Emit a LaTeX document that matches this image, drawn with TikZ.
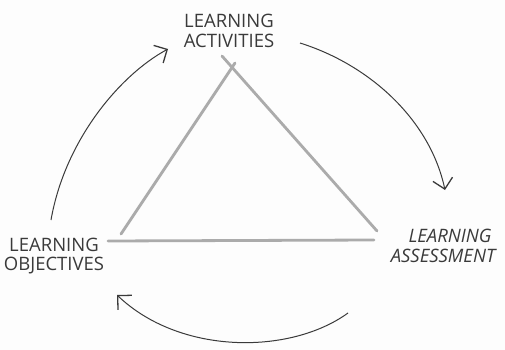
\documentclass[tikz,border=0pt]{standalone}
\usepackage{fontspec}
\setmainfont{Open Sans}
\usepackage{tikz}
\usetikzlibrary{arrows.meta, positioning}
\definecolor{pencil}{HTML}{3A3A3A}
\definecolor{graphite}{HTML}{ABABAB}
\definecolor{paper}{HTML}{FDFDFD}

\begin{document}
\begin{tikzpicture}[
  x=1pt, y=-1pt,
  lbl/.style={align=center, inner sep=0pt, text=pencil,
              font=\fontsize{18.5}{19.5}\selectfont},
  cycle/.style={draw=pencil, line width=1pt,
                -{Straight Barb[length=10pt, width=20pt, line width=1.3pt]}},
  side/.style={draw=graphite, line width=2.8pt, line cap=round}
]
  \fill[paper] (0,0) rectangle (505,350);
  \useasboundingbox (0,0) rectangle (505,350);

  % the three labels
  \node[lbl] (act) at (229,31) {LEARNING\\ACTIVITIES};
  \node[lbl] (obj) at (54,256) {LEARNING\\OBJECTIVES};
  \node[lbl, font=\fontsize{18.5}{19.5}\selectfont\itshape] (ass) at (443,246)
    {\hspace*{14pt}LEARNING\\ASSESSMENT};

  % triangle corners
  \coordinate (top) at (235,63);
  \coordinate (bl) at (108,241);
  \coordinate (br) at (374,240);

  \draw[side] (top) -- (121,234);
  \draw[side] (222,56) -- (377,231);
  \draw[side] (bl) -- (br);

  % ends of the cycle arrows
  \coordinate (a1) at (300,43);
  \coordinate (a2) at (445,190);
  \coordinate (b1) at (348,313);
  \coordinate (b2) at (117,295);
  \coordinate (c1) at (51,220);
  \coordinate (c2) at (168,49);

  \draw[cycle] (a1) .. controls (370,65) and (430,120) .. (a2);
  \draw[cycle] (b1) .. controls (290,355) and (180,355) .. (b2);
  \draw[cycle] (c1) .. controls (65,140) and (120,75) .. (c2);
\end{tikzpicture}
\end{document}
